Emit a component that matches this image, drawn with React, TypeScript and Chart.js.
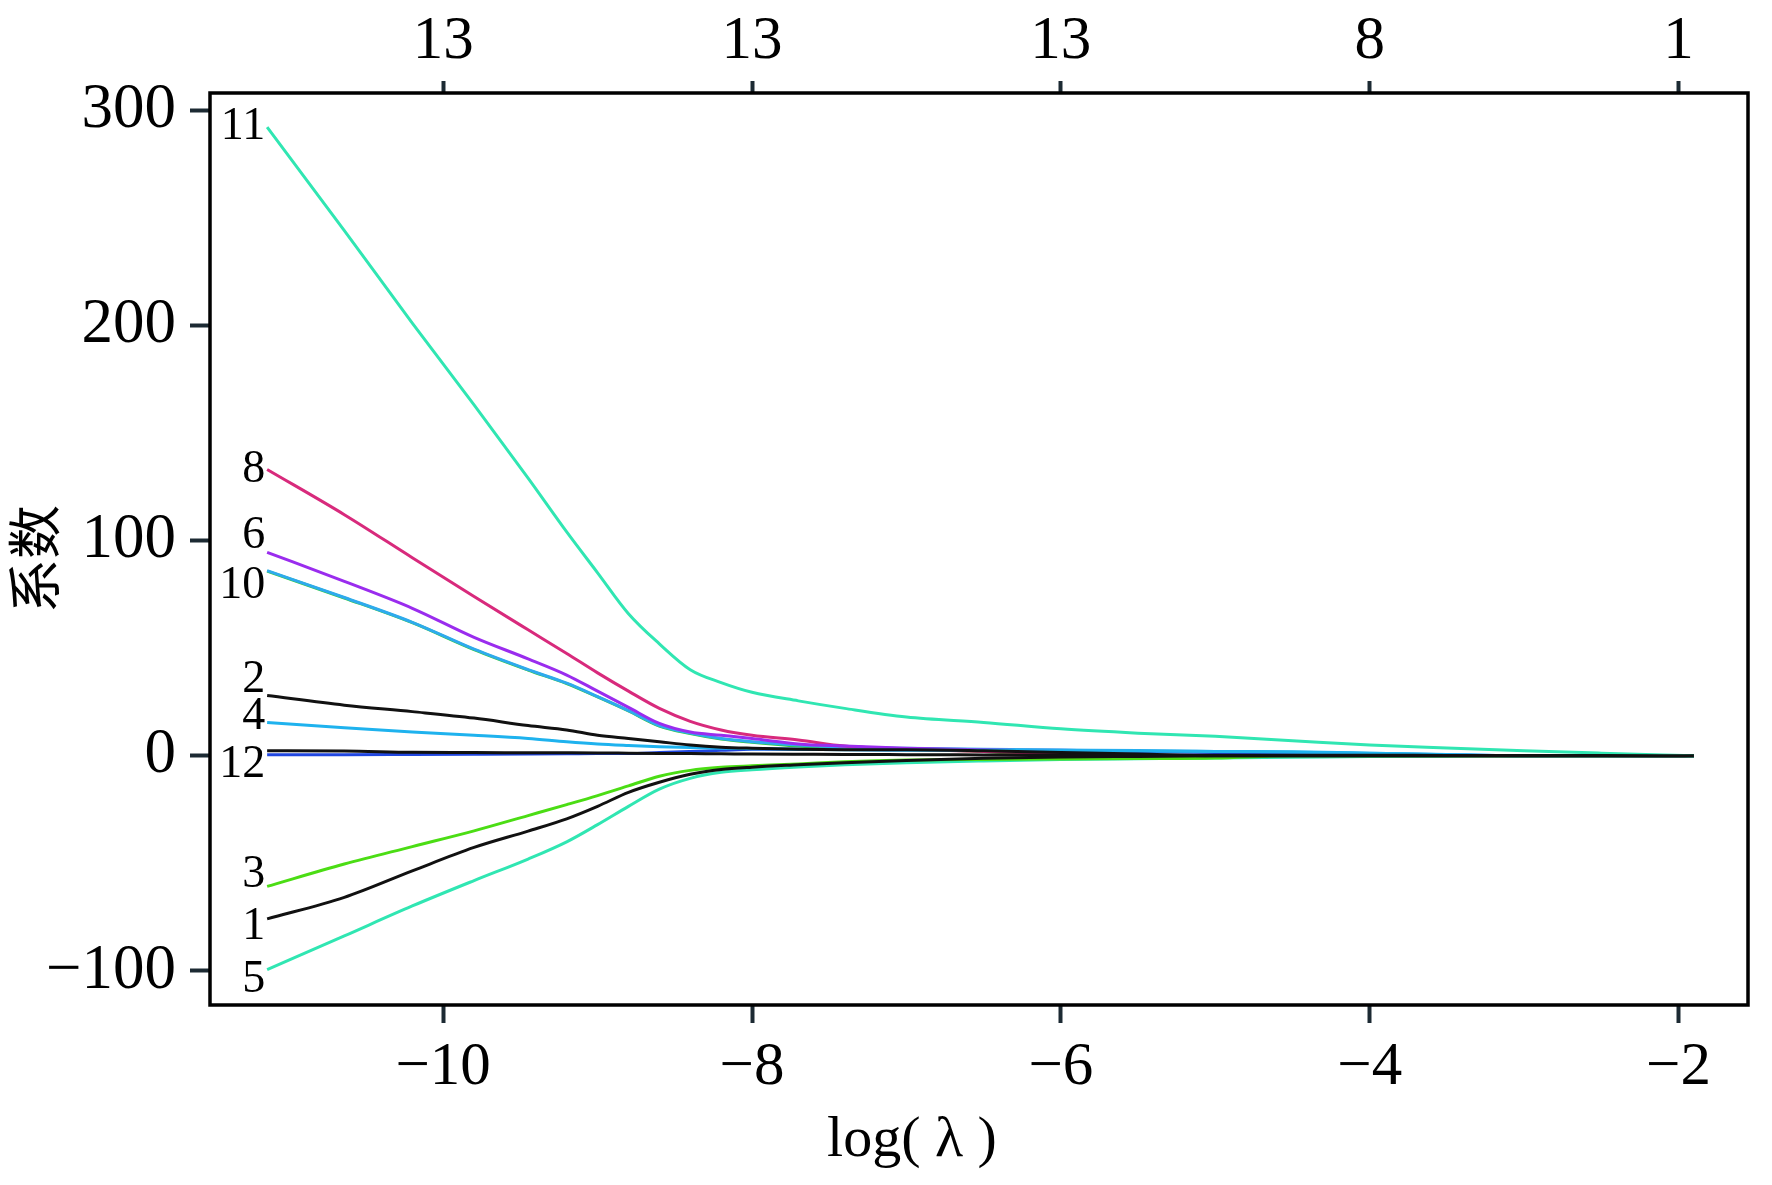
import React, { useEffect, useRef } from "react";
import { Chart, registerables } from "chart.js";

Chart.register(...registerables);

// log(lambda) grid shared by all coefficient paths
const X = [-11.14, -10.64, -10.2, -9.8, -9.45, -9.2, -9.0, -8.8, -8.6, -8.4, -8.2, -8.0, -7.7, -7.4, -7.0, -6.5, -6.0, -5.5, -5.0, -4.5, -4.0, -3.5, -3.0, -2.5, -1.9];

const S1 = [-75.8, -65.8, -53.5, -42.6, -35, -29.3, -23.5, -17, -12.3, -8.6, -6.4, -5.3, -4.2, -3.2, -2.2, -1.2, -0.6, -0.3, 0, 0, 0, 0, 0, 0, 0];
const S2 = [28, 23.5, 20.5, 17.5, 14, 12, 9.5, 8, 6.5, 5, 4, 3.5, 3, 2.8, 2.8, 2.3, 1.5, 0.8, 0, 0, 0, 0, 0, 0, 0];
const S3 = [-60.7, -50.3, -42.2, -34.9, -27.8, -22.7, -18.5, -14, -9.5, -6.8, -5.4, -4.7, -3.8, -2.8, -2.0, -1.7, -1.5, -1.3, -1.0, 0, 0, 0, 0, 0, 0];
const S4 = [15.5, 13, 11, 9.5, 8, 6.5, 5.5, 4.8, 4.2, 3.8, 3.5, 3.3, 3, 2.8, 2.6, 2.5, 2.3, 2.2, 2, 1.8, 1.2, 0.5, 0, 0, 0];
const S5 = [-99.4, -83.7, -69.8, -58, -48, -40, -32, -23.5, -15.5, -10.5, -7.7, -6.5, -5.2, -4.2, -3.2, -2.4, -1.8, -1.4, -1, -0.7, -0.4, -0.2, 0, 0, 0];
const S6 = [94.5, 81, 68.5, 55, 45, 37.5, 30, 22.5, 15, 11, 9.5, 8, 5.5, 4.5, 3.5, 2.8, 2, 0, 0, 0, 0, 0, 0, 0, 0];
const S7 = [85.8, 73.3, 61.8, 49.3, 39.8, 33.5, 27.3, 20.8, 13.8, 10.3, 7.8, 6.3, 4.5, 3.5, 3, 2, 0, 0, 0, 0, 0, 0, 0, 0, 0];
const S8 = [133, 112, 92, 74, 58.5, 47.5, 38.5, 30, 22, 16, 12, 9.5, 7.3, 4.5, 3, 2, 1, 0, 0, 0, 0, 0, 0, 0, 0];
const S9 = [0.5, 0.5, 0.6, 0.7, 0.8, 0.9, 1, 1, 1.5, 2, 2.5, 3, 3, 2.9, 2.8, 2.7, 2.5, 2, 1.5, 1, 0.6, 0.3, 0, 0, 0];
const S10 = [86, 73.5, 62, 49.5, 40, 33.7, 27.5, 21, 14, 10.5, 8, 6.5, 5, 4, 3.5, 3, 2.7, 2.4, 2, 1.6, 1.2, 0.6, 0, 0, 0];
const S11 = [292, 244, 201, 163, 129, 104, 85, 66, 52, 40, 34, 29.5, 25.5, 22, 18, 15.5, 12.5, 10.5, 9, 7, 5, 3.6, 2.3, 1.2, 0];
const S12 = [2.3, 2.2, 1.6, 1.5, 1.4, 1.35, 1.3, 1.2, 1.1, 1, 0.9, 0.8, 0.7, 0.6, 0.5, 0.4, 0.3, 0.25, 0.2, 0.2, 0.2, 0.15, 0.1, 0.1, 0];

const SERIES_NAMES = ["1", "2", "3", "4", "5", "6", "7", "8", "9", "10", "11", "12"];
const SERIES_VALUES = [S1, S2, S3, S4, S5, S6, S7, S8, S9, S10, S11, S12];
const SERIES_COLORS = ["#111111", "#111111", "#4BDD14", "#1EB2EE", "#30E6B2", "#9A2CEE", "#33CC33", "#D82A7C", "#2046E0", "#2EAAEE", "#30E6B2", "#111111"];
const SERIES_ORDER = [3, 2, 4, 6, 5, 7, 9, 8, 10, 8, 1, 0];
// whether the path gets a number at its left end, and a vertical nudge in px
const LABEL_SHOWN = [true, true, true, true, true, true, false, true, false, true, true, true];
const LABEL_NUDGE = [8, -16, -11, -5, 10, -16, 0, 0, 0, 15, 0, 14];

const X_TICKS = [-10, -8, -6, -4, -2];
const Y_TICKS = [-100, 0, 100, 200, 300];
const TOP_LABELS = ["13", "13", "13", "8", "1"];

const X_MIN = -11.51;
const X_MAX = -1.55;
const Y_MIN = -115.8;
const Y_MAX = 307.9;

const minus = (v: number) => (v < 0 ? "\u2212" + Math.abs(v) : String(v));
const SERIF = "'Liberation Serif', 'Times New Roman', serif";

export default function App() {
  const ref = useRef<HTMLCanvasElement | null>(null);

  useEffect(() => {
    document.body.style.margin = "0";
    const canvas = ref.current;
    if (!canvas) return;

    const datasets = SERIES_VALUES.map((vals, i) => ({
      label: SERIES_NAMES[i],
      data: vals.map((v, j) => ({ x: X[j], y: v })),
      borderColor: SERIES_COLORS[i],
      backgroundColor: SERIES_COLORS[i],
      borderWidth: 3,
      pointRadius: 0,
      cubicInterpolationMode: "monotone" as const,
      fill: false,
      order: SERIES_ORDER[i],
    }));

    const overlay = {
      id: "overlay",
      afterDraw(chart: any) {
        const { ctx, chartArea } = chart;
        ctx.save();
        ctx.strokeStyle = "#000";
        ctx.lineWidth = 3.5;
        ctx.strokeRect(chartArea.left, chartArea.top, chartArea.right - chartArea.left, chartArea.bottom - chartArea.top);

        // path labels
        ctx.fillStyle = "#000";
        ctx.font = `46px ${SERIF}`;
        ctx.textAlign = "right";
        ctx.textBaseline = "middle";
        chart.data.datasets.forEach((ds: any, i: number) => {
          if (!LABEL_SHOWN[i]) return;
          const meta = chart.getDatasetMeta(i);
          const p = meta.data[0];
          ctx.fillText(ds.label, p.x - 2, p.y + LABEL_NUDGE[i]);
        });

        // axis titles
        ctx.textAlign = "center";
        ctx.font = `58px ${SERIF}`;
        ctx.fillText("log( \u03bb )", (chartArea.left + chartArea.right) / 2 - 67, chartArea.bottom + 136);

        ctx.translate(34, (chartArea.top + chartArea.bottom) / 2 + 10);
        ctx.rotate(-Math.PI / 2);
        ctx.font = "54px 'Noto Sans CJK SC'";
        ctx.fillText("系数", 0, 0);
        ctx.restore();
      },
    };

    const tickGrid = (len: number) => ({
      display: true,
      drawOnChartArea: false,
      drawTicks: true,
      tickLength: len,
      tickWidth: 4,
      tickColor: "#1c2a33",
    });

    const chart = new Chart(canvas, {
      type: "line",
      data: { datasets },
      plugins: [overlay],
      options: {
        animation: false,
        responsive: false,
        devicePixelRatio: 1,
        layout: { padding: { left: 0, right: 24, top: 0, bottom: 0 } },
        plugins: { legend: { display: false }, tooltip: { enabled: false } },
        scales: {
          x: {
            type: "linear",
            position: "bottom",
            min: X_MIN,
            max: X_MAX,
            afterBuildTicks: (s: any) => {
              s.ticks = X_TICKS.map((v) => ({ value: v }));
            },
            afterFit: (s: any) => {
              s.height = 180;
            },
            grid: tickGrid(18),
            border: { display: false },
            ticks: {
              color: "#000",
              font: { family: SERIF, size: 61 },
              padding: 8,
              maxRotation: 0,
              callback: (v: any) => minus(Number(v)),
            },
          },
          x2: {
            type: "linear",
            axis: "x",
            position: "top",
            min: X_MIN,
            max: X_MAX,
            afterBuildTicks: (s: any) => {
              s.ticks = X_TICKS.map((v) => ({ value: v }));
            },
            afterFit: (s: any) => {
              s.height = 93;
            },
            grid: tickGrid(12),
            border: { display: false },
            ticks: {
              color: "#000",
              font: { family: SERIF, size: 61 },
              padding: 2,
              maxRotation: 0,
              callback: (_v: any, i: number) => TOP_LABELS[i],
            },
          },
          y: {
            type: "linear",
            min: Y_MIN,
            max: Y_MAX,
            afterBuildTicks: (s: any) => {
              s.ticks = Y_TICKS.map((v) => ({ value: v }));
            },
            afterFit: (s: any) => {
              s.width = 210;
            },
            grid: tickGrid(20),
            border: { display: false },
            ticks: {
              color: "#000",
              font: { family: SERIF, size: 63 },
              padding: 14,
              callback: (v: any) => minus(Number(v)),
            },
          },
        },
      },
    } as any);

    return () => chart.destroy();
  }, []);

  return (
    <div style={{ width: 1772, height: 1185, background: "#fff" }}>
      <canvas ref={ref} width={1772} height={1185} style={{ display: "block" }} />
    </div>
  );
}
